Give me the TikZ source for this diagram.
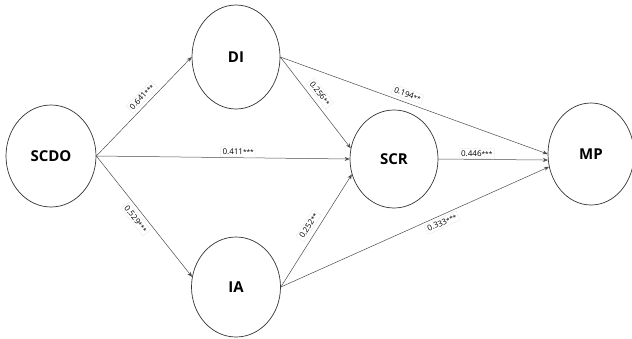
\documentclass[tikz,border=0pt]{standalone}
\usepackage{fontspec}
\setmainfont{Open Sans}
\usetikzlibrary{shapes.geometric,arrows.meta}
\tikzset{
  var/.style={draw=black!80, line width=0.7pt, ellipse, inner sep=0pt, font=\fontsize{15}{15}\selectfont\bfseries},
  path/.style={draw=black!70, line width=0.5pt, -{Stealth[length=5pt,width=4pt]}},
  lbl/.style={draw=gray!15, fill=none, inner sep=2pt, font=\fontsize{8}{8}\selectfont, sloped, text=black}
}
\newcommand{\stars}[1]{{\fontsize{6.5}{6.5}\selectfont #1}}
\begin{document}
\begin{tikzpicture}[x=1pt,y=-1pt]
\useasboundingbox (0,0) rectangle (632,338);
\node[var, minimum width=90pt, minimum height=102pt] (SCDO) at (51,156) {SCDO};
\node[var, minimum width=88pt, minimum height=104pt] (DI) at (236,57) {DI};
\node[var, minimum width=89pt, minimum height=100pt] (IA) at (236,287) {IA};
\node[var, minimum width=88pt, minimum height=98pt] (SCR) at (394,159) {SCR};
\node[var, minimum width=86pt, minimum height=102pt] (MP) at (591,154) {MP};

\draw[path] (SCDO.east) -- (DI.west) node[lbl, pos=0.54, above=3pt] {0.641\stars{***}};
\draw[path] (SCDO.east) -- (SCR.west) node[lbl, pos=0.56, above=0.5pt] {0.411\stars{***}};
\draw[path] (SCDO.east) -- (IA.167) node[lbl, pos=0.48, below=3pt] {0.529\stars{***}};
\draw[path] (DI.east) -- (SCR.166) node[lbl, pos=0.46, above=4pt] {0.256\stars{**}};
\draw[path] (DI.east) -- (MP.180) node[lbl, pos=0.465, above=3pt] {0.194\stars{**}};
\draw[path] (SCR.east) -- (MP.188) node[lbl, pos=0.35, above=0.5pt] {0.446\stars{***}};
\draw[path] (IA.east) -- (SCR.200) node[lbl, pos=0.5, above=4pt] {0.252\stars{**}};
\draw[path] (IA.east) -- (MP.197) node[lbl, pos=0.59, below=2pt] {0.333\stars{***}};
\end{tikzpicture}
\end{document}
